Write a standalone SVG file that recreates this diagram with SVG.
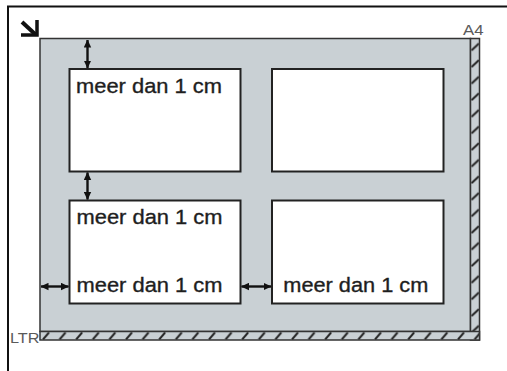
<svg xmlns="http://www.w3.org/2000/svg" width="507" height="371" viewBox="0 0 507 371">
<style>
.lbl{font-family:"Liberation Sans",Arial,sans-serif;font-size:20.5px;fill:#1e1e1e;stroke:#1e1e1e;stroke-width:0.35}
.tag{font-family:"Liberation Sans",Arial,sans-serif;font-size:15.5px;fill:#5a5a5a}
.box{fill:#fff;stroke:#222;stroke-width:2}
.arr{stroke:#111;stroke-width:2.4;fill:none;marker-start:url(#ah);marker-end:url(#ah)}
</style>
<defs>
<marker id="ah" viewBox="0 0 8 8" refX="7.5" refY="4" markerWidth="8" markerHeight="8" markerUnits="userSpaceOnUse" orient="auto-start-reverse">
<path d="M0,0.3 L8,4 L0,7.7 Z" fill="#111"/>
</marker>
<pattern id="hb" patternUnits="userSpaceOnUse" x="40" y="331.5" width="16.6" height="8.5">
<line x1="3" y1="8" x2="9" y2="1" stroke="#222" stroke-width="2"/>
</pattern>
<pattern id="hr" patternUnits="userSpaceOnUse" x="470.5" y="38.5" width="9" height="16.6">
<line x1="1" y1="12" x2="8.5" y2="5" stroke="#222" stroke-width="2"/>
</pattern>
</defs>
<rect width="507" height="371" fill="#fff"/>
<g id="frame">
<path d="M8,371 V6.5 H507" fill="none" stroke="#111" stroke-width="2"/>
</g>
<g id="corner-icon">
<path d="M22,22 L35.5,34.5" stroke="#111" stroke-width="4" fill="none"/>
<path d="M21,35 H37 V20" stroke="#111" stroke-width="3.5" fill="none"/>
</g>
<g id="glass">
<rect x="40" y="38.5" width="430.5" height="293" fill="#c9d0d4" stroke="#333" stroke-width="1.5"/>
<rect x="470.5" y="38.5" width="9" height="301.5" fill="#c9d0d4"/>
<rect x="470.5" y="38.5" width="9" height="301.5" fill="url(#hr)" stroke="#333" stroke-width="1.5"/>
<rect x="40" y="331.5" width="439.5" height="8.5" fill="#c9d0d4"/>
<rect x="40" y="331.5" width="439.5" height="8.5" fill="url(#hb)" stroke="#333" stroke-width="1.5"/>
<text class="tag" x="463" y="34.5" textLength="20.5" lengthAdjust="spacingAndGlyphs">A4</text>
<text class="tag" x="10" y="342.5" textLength="29.5" lengthAdjust="spacingAndGlyphs">LTR</text>
</g>
<g id="doc1">
<rect class="box" x="69.5" y="69" width="171" height="102.5"/>
<text class="lbl" x="76" y="93.3" textLength="146" lengthAdjust="spacingAndGlyphs">meer dan 1 cm</text>
</g>
<g id="doc2">
<rect class="box" x="272" y="69" width="171.5" height="102.5"/>
</g>
<g id="doc3">
<rect class="box" x="69.5" y="200.5" width="171" height="103"/>
<text class="lbl" x="76.5" y="224.3" textLength="146" lengthAdjust="spacingAndGlyphs">meer dan 1 cm</text>
<text class="lbl" x="76.5" y="291.7" textLength="146" lengthAdjust="spacingAndGlyphs">meer dan 1 cm</text>
</g>
<g id="doc4">
<rect class="box" x="272" y="200.5" width="171.5" height="103"/>
<text class="lbl" x="283.3" y="291.7" textLength="145" lengthAdjust="spacingAndGlyphs">meer dan 1 cm</text>
</g>
<g id="connectors">
<line class="arr" x1="87.5" y1="40" x2="87.5" y2="68"/>
<line class="arr" x1="87.5" y1="172.5" x2="87.5" y2="199.5"/>
<line class="arr" x1="41" y1="286.5" x2="68.5" y2="286.5"/>
<line class="arr" x1="241.5" y1="286.5" x2="271" y2="286.5"/>
</g>
</svg>
